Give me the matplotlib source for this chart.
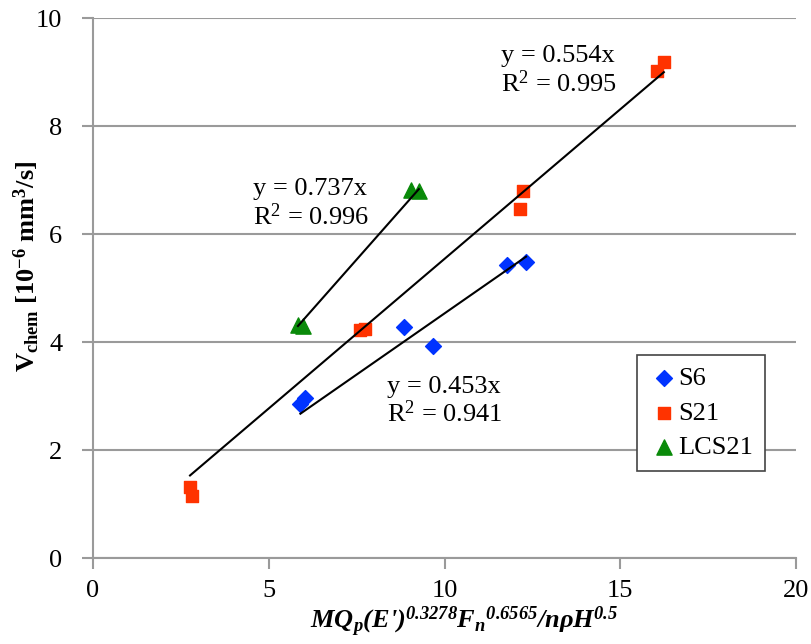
import numpy as np
import matplotlib
matplotlib.use('Agg')
import matplotlib.pyplot as plt

plt.rcParams['font.family'] = ['Liberation Serif', 'DejaVu Serif']
plt.rcParams['mathtext.default'] = 'regular'

# data
s6_x = [5.9, 6.03, 8.85, 9.67, 11.78, 12.32]
s6_y = [2.85, 2.96, 4.28, 3.93, 5.43, 5.48]
s21_x = [2.76, 2.82, 7.6, 7.74, 12.15, 12.23, 16.05, 16.24]
s21_y = [1.32, 1.15, 4.22, 4.24, 6.46, 6.8, 9.02, 9.19]
lcs_x = [5.83, 5.98, 9.05, 9.27]
lcs_y = [4.31, 4.3, 6.81, 6.8]

slopes = {'S6': 0.453, 'S21': 0.554, 'LCS21': 0.737}
r2 = {'S6': 0.941, 'S21': 0.995, 'LCS21': 0.996}

fig = plt.figure(figsize=(8.11, 6.44), dpi=100)
ax = fig.add_axes([0.1147, 0.1335, 0.8668, 0.8385])

ax.scatter(s6_x, s6_y, marker='D', s=65, color='#0033ff', label='S6', zorder=3)
ax.scatter(s21_x, s21_y, marker='s', s=75, color='#ff3300', label='S21', zorder=3)
ax.scatter(lcs_x, lcs_y, marker='^', s=120, color='#0a8a0a', label='LCS21', zorder=3)

# trend lines through origin, drawn over data range
for name, xs in [('S6', s6_x), ('S21', s21_x), ('LCS21', lcs_x)]:
    xr = np.array([min(xs), max(xs)])
    ax.plot(xr, slopes[name] * xr, color='black', lw=1.5, zorder=4)

fs = 19
for name, (tx, ty) in [('S6', (8.35, 2.9)), ('S21', (11.6, 9.02)), ('LCS21', (4.55, 6.56))]:
    ax.text(tx, ty, 'y = %.3fx\nR$^2$ = %.3f' % (slopes[name], r2[name]),
            fontsize=fs, ha='left', va='center', linespacing=1.15)

ax.set_xlim(0, 20)
ax.set_ylim(0, 10)
ax.set_xticks([0, 5, 10, 15, 20])
ax.set_yticks([0, 2, 4, 6, 8, 10])
ax.grid(axis='y', color='#9a9a9a', lw=1.5)
ax.set_axisbelow(True)
for sp in ['top', 'right']:
    ax.spines[sp].set_visible(False)
for sp in ['left', 'bottom']:
    ax.spines[sp].set_color('#9a9a9a')
    ax.spines[sp].set_linewidth(1.5)
ax.tick_params(axis='both', direction='out', length=8, width=1.5, color='#9a9a9a',
               labelsize=fs)
ax.tick_params(axis='y', pad=14)
ax.tick_params(axis='x', pad=8)

ax.set_ylabel('V$_{chem}$ [10$^{-6}$ mm$^3$/s]', fontsize=fs, fontweight='bold')
ax.yaxis.set_label_coords(-0.072, 0.54)
ax.set_xlabel("MQ$_p$(E')$^{0.3278}$F$_n$$^{0.6565}$/n\u03c1H$^{0.5}$",
              fontsize=fs, fontweight='bold', style='italic')
ax.xaxis.set_label_coords(0.528, -0.085)

leg = ax.legend(loc='lower right', bbox_to_anchor=(0.956, 0.161), fontsize=fs,
                frameon=True, fancybox=False, edgecolor='#444444', handletextpad=0.0,
                borderpad=0.45, labelspacing=0.42, handlelength=1.1, scatterpoints=1,
                framealpha=1, borderaxespad=0)
leg.get_frame().set_linewidth(1.2)

fig.savefig('out.png', dpi=100)
